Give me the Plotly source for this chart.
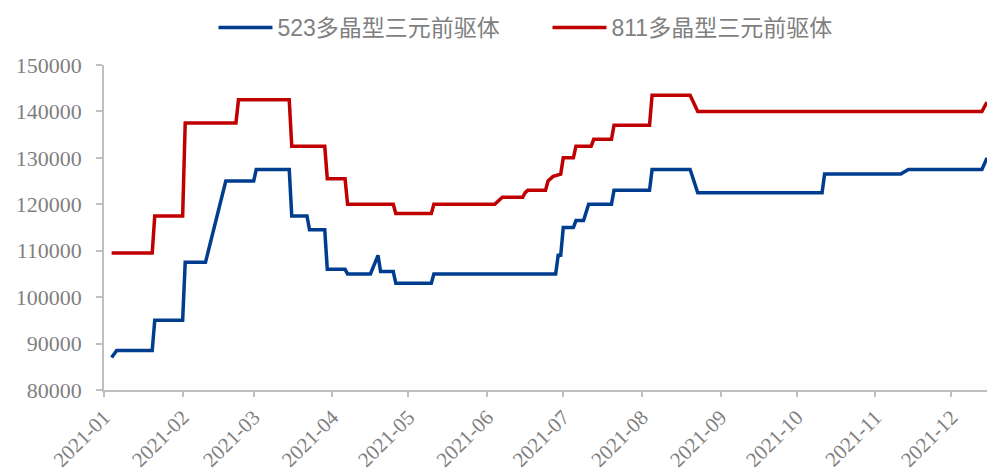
import plotly.graph_objects as go

# ---- data ----
dates_523 = ["2021-01-04", "2021-01-06", "2021-01-20", "2021-01-21", "2021-02-01", "2021-02-02",
             "2021-02-10", "2021-02-18", "2021-03-01", "2021-03-02", "2021-03-15", "2021-03-16",
             "2021-03-22", "2021-03-23", "2021-03-29", "2021-03-30", "2021-04-06", "2021-04-07",
             "2021-04-16", "2021-04-19", "2021-04-20", "2021-04-25", "2021-04-26", "2021-05-10",
             "2021-05-11", "2021-06-28", "2021-06-29", "2021-06-30", "2021-07-01", "2021-07-05",
             "2021-07-06", "2021-07-09", "2021-07-11", "2021-07-20", "2021-07-21", "2021-08-04",
             "2021-08-05", "2021-08-20", "2021-08-23", "2021-10-11", "2021-10-12", "2021-11-11",
             "2021-11-14", "2021-12-13", "2021-12-15"]
values_523 = [87000, 88500, 88500, 95000, 95000, 107500,
              107500, 125000, 125000, 127500, 127500, 117500,
              117500, 114500, 114500, 106000, 106000, 105000,
              105000, 109000, 105500, 105500, 103000, 103000,
              105000, 105000, 109000, 109000, 115000, 115000,
              116500, 116500, 120000, 120000, 123000, 123000,
              127500, 127500, 122500, 122500, 126500, 126500,
              127500, 127500, 130000]

dates_811 = ["2021-01-04", "2021-01-20", "2021-01-21", "2021-02-01", "2021-02-02", "2021-02-22",
             "2021-02-23", "2021-03-15", "2021-03-16", "2021-03-29", "2021-03-30", "2021-04-06",
             "2021-04-07", "2021-04-25", "2021-04-26", "2021-05-10", "2021-05-11", "2021-06-04",
             "2021-06-07", "2021-06-15", "2021-06-16", "2021-06-17", "2021-06-24", "2021-06-25",
             "2021-06-27", "2021-06-30", "2021-07-01", "2021-07-05", "2021-07-06", "2021-07-12",
             "2021-07-13", "2021-07-20", "2021-07-21", "2021-08-04", "2021-08-05", "2021-08-20",
             "2021-08-23", "2021-12-13", "2021-12-15"]
values_811 = [109500, 109500, 117500, 117500, 137500, 137500,
              142500, 142500, 132500, 132500, 125500, 125500,
              120000, 120000, 118000, 118000, 120000, 120000,
              121500, 121500, 122500, 123000, 123000, 125000,
              126000, 126500, 130000, 130000, 132500, 132500,
              134000, 134000, 137000, 137000, 143500, 143500,
              140000, 140000, 142000]

series_names = ["523多晶型三元前驱体", "811多晶型三元前驱体"]
series_colors = ["#003D8F", "#C00000"]

y_range = [80000, 150000]
x_range = ["2021-01-01", "2021-12-15"]

axis_color = "#BFBFBF"
text_color = "#7F7F7F"
serif = "Liberation Serif, Times New Roman, serif"
legend_font = "Liberation Sans, Noto Sans CJK SC"

fig = go.Figure()
fig.add_trace(go.Scatter(x=dates_523, y=values_523, mode="lines", name=series_names[0],
                         line=dict(color=series_colors[0], width=3.5)))
fig.add_trace(go.Scatter(x=dates_811, y=values_811, mode="lines", name=series_names[1],
                         line=dict(color=series_colors[1], width=3.5)))

fig.update_layout(
    width=987, height=475,
    margin=dict(l=104, r=0, t=65, b=85, autoexpand=False),
    paper_bgcolor="white", plot_bgcolor="white",
    font=dict(family=serif, color=text_color),
    showlegend=True,
    legend=dict(orientation="h", x=0.124, xanchor="left", yref="container", y=0.942,
                yanchor="middle", font=dict(family=legend_font, size=23, color=text_color),
                itemwidth=54, entrywidth=265, entrywidthmode="pixels",
                bgcolor="rgba(0,0,0,0)"),
    xaxis=dict(type="date", range=x_range, dtick="M1", tick0="2021-01-01",
               tickformat="%Y-%m", tickangle=-45, showgrid=False, zeroline=False,
               automargin=False,
               showline=True, linecolor=axis_color, linewidth=1.5,
               ticks="outside", ticklen=5, tickcolor=axis_color, tickwidth=1.5,
               tickfont=dict(family=serif, size=21, color=text_color)),
    yaxis=dict(range=y_range, dtick=10000, showgrid=False, zeroline=False,
               automargin=False,
               showline=True, linecolor=axis_color, linewidth=1.5,
               ticks="outside", ticklen=6, tickcolor=axis_color, tickwidth=1.5,
               ticklabelstandoff=10, tickformat="d",
               tickfont=dict(family=serif, size=22, color=text_color)),
)

fig.write_html("out.html")
